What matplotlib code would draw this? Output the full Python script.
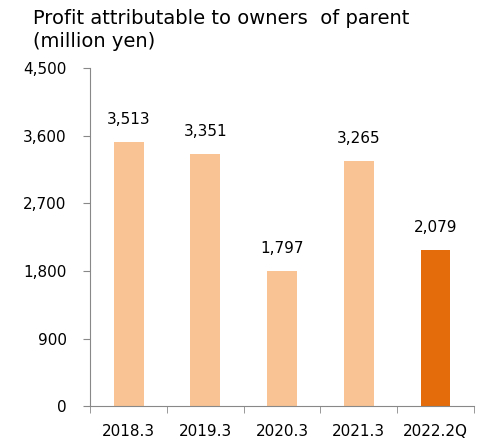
import matplotlib.pyplot as plt
import numpy as np

categories = ['2018.3', '2019.3', '2020.3', '2021.3', '2022.2Q']
profit = [3513, 3351, 1797, 3265, 2079]
bar_colors = ['#F9C394', '#F9C394', '#F9C394', '#F9C394', '#E46C0A']
yticks = [0, 900, 1800, 2700, 3600, 4500]

fig = plt.figure(figsize=(4.85, 4.42), dpi=100)
ax = fig.add_axes([0.186, 0.081, 0.791, 0.765])

x = np.arange(len(categories))
ax.bar(x, profit, width=0.39, color=bar_colors)
for xi, v in zip(x, profit):
    ax.text(xi, v + 200, f'{v:,}', ha='center', va='bottom', fontsize=11)

ax.set_xlim(-0.5, len(categories) - 0.5)
ax.set_ylim(0, 4500)
ax.set_yticks(yticks)
ax.set_yticklabels([f'{t:,}' for t in yticks], fontsize=11)
ax.set_xticks(x)
ax.set_xticklabels(categories, fontsize=11)
ax.set_xticks(np.arange(len(categories) + 1) - 0.5, minor=True)
ax.tick_params(axis='x', which='major', length=0, pad=13)
ax.tick_params(axis='x', which='minor', length=5, color='#888888')
ax.tick_params(axis='y', length=5, color='#888888', pad=12)

for s in ['top', 'right']:
    ax.spines[s].set_visible(False)
for s in ['left', 'bottom']:
    ax.spines[s].set_color('#888888')

fig.text(0.068, 0.98, 'Profit attributable to owners  of parent\n(million yen)',
         ha='left', va='top', fontsize=14, linespacing=1.3)

fig.savefig('out.png', dpi=100)
